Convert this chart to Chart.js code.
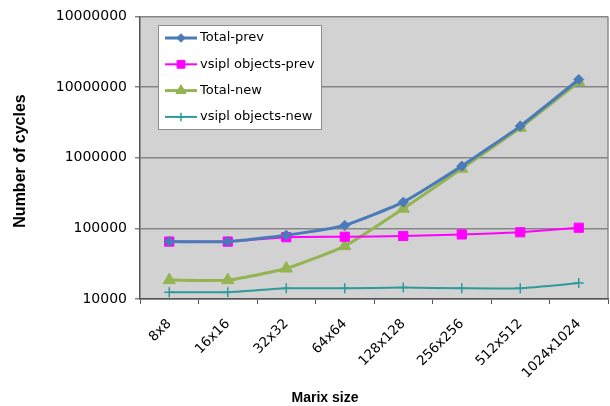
<!DOCTYPE html>
<html>
<head>
<meta charset="utf-8">
<script src="https://cdn.jsdelivr.net/npm/chart.js@4/dist/chart.umd.min.js"></script>
<style>
  html, body { margin: 0; padding: 0; background: #ffffff; }
  #wrap { width: 610px; height: 406px; position: relative; }
</style>
</head>
<body>
<div id="wrap"><canvas id="c" width="610" height="406"></canvas></div>
<script>
const categories = ['8x8', '16x16', '32x32', '64x64', '128x128', '256x256', '512x512', '1024x1024'];
const totalPrev = [65000, 65000, 80000, 110000, 235000, 760000, 2800000, 12800000];
const vsiplPrev = [65000, 65000, 75000, 76000, 78000, 82000, 88000, 102000];
const totalNew = [18500, 18500, 27000, 56000, 190000, 700000, 2650000, 11800000];
const vsiplNew = [12500, 12500, 14200, 14200, 14500, 14200, 14200, 16800];
const yTickValues = [10000, 100000, 1000000, 10000000, 100000000];
const yTickLabels = ['10000', '100000', '1000000', '10000000', '10000000'];
const xTitle = 'Marix size';
const yTitle = 'Number of cycles';

const TFONT = '"DejaVu Sans", sans-serif';
const BFONT = '"Liberation Sans", Arial, sans-serif';

const plotBg = {
  id: 'plotBg',
  beforeDraw(chart) {
    const { ctx, chartArea: a } = chart;
    ctx.save();
    ctx.fillStyle = '#d2d2d2';
    ctx.fillRect(a.left, a.top, a.right - a.left, a.bottom - a.top);
    ctx.strokeStyle = '#8c8c8c';
    ctx.lineWidth = 1.5;
    ctx.beginPath();
    ctx.moveTo(a.right, a.top);
    ctx.lineTo(a.right, a.bottom);
    ctx.stroke();
    ctx.restore();
  }
};

const titles = {
  id: 'titles',
  afterDraw(chart) {
    const { ctx } = chart;
    ctx.save();
    ctx.fillStyle = '#000';
    ctx.font = 'bold 14px ' + BFONT;
    ctx.textAlign = 'center';
    ctx.textBaseline = 'top';
    ctx.fillText(xTitle, 325, 391);
    ctx.font = 'bold 16px ' + BFONT;
    ctx.translate(21, 161);
    ctx.rotate(-Math.PI / 2);
    ctx.textBaseline = 'middle';
    ctx.fillText(yTitle, 0, 0);
    ctx.restore();
  }
};

const boxLegend = {
  id: 'boxLegend',
  afterDatasetsDraw(chart) {
    const { ctx } = chart;
    const x = 158, y = 25, w = 163, h = 104;
    ctx.save();
    ctx.fillStyle = '#ffffff';
    ctx.fillRect(x, y, w, h);
    ctx.strokeStyle = '#8c8c8c';
    ctx.lineWidth = 1;
    ctx.strokeRect(x + 0.5, y + 0.5, w, h);
    ctx.font = '13px ' + TFONT;
    ctx.textBaseline = 'middle';
    ctx.textAlign = 'left';
    chart.data.datasets.forEach((ds, i) => {
      const cy = y + 13 + i * 26.3;
      ctx.strokeStyle = ds.borderColor;
      ctx.lineWidth = ds.borderWidth;
      ctx.beginPath();
      ctx.moveTo(x + 7, cy);
      ctx.lineTo(x + 39, cy);
      ctx.stroke();
      ctx.fillStyle = ds.pointBackgroundColor;
      ctx.strokeStyle = ds.pointBorderColor;
      ctx.lineWidth = ds.pointBorderWidth;
      Chart.helpers.drawPoint(ctx, {
        pointStyle: ds.pointStyle,
        radius: ds.pointRadius * 0.85,
        rotation: 0,
        borderWidth: ds.pointBorderWidth
      }, x + 23, cy);
      ctx.fillStyle = '#000';
      ctx.fillText(ds.label, x + 42, cy);
    });
    ctx.restore();
  }
};

function mk(label, data, color, style, radius, width) {
  return {
    label, data,
    borderColor: color,
    backgroundColor: color,
    pointBackgroundColor: color,
    pointBorderColor: color,
    borderWidth: width,
    pointStyle: style,
    pointRadius: radius,
    pointBorderWidth: style === 'cross' ? 1.5 : 1,
    tension: 0.15,
    fill: false
  };
}

new Chart(document.getElementById('c'), {
  type: 'line',
  data: {
    labels: categories,
    datasets: [
      mk('Total-prev', totalPrev, '#4a7ab8', 'rectRot', 5, 3),
      mk('vsipl objects-prev', vsiplPrev, '#ff00ff', 'rect', 6.5, 2),
      mk('Total-new', totalNew, '#94b451', 'triangle', 7, 3),
      mk('vsipl objects-new', vsiplNew, '#2e9a9a', 'cross', 5, 2)
    ]
  },
  options: {
    responsive: false,
    animation: false,
    devicePixelRatio: 1,
    layout: { autoPadding: false, padding: { left: 0, right: 2, top: 16, bottom: 0 } },
    plugins: { legend: { display: false }, tooltip: { enabled: false } },
    scales: {
      x: {
        type: 'category',
        offset: true,
        grid: { display: true, drawOnChartArea: false, drawTicks: true, tickLength: 5, color: '#555', offset: true },
        border: { display: true, color: '#555', width: 1.5 },
        ticks: { minRotation: 45, maxRotation: 45, color: '#000', font: { family: TFONT, size: 13.5 }, padding: 12 },
        afterFit(s) { s.height = 107; s.paddingLeft = 0; s.paddingRight = 0; }
      },
      y: {
        type: 'logarithmic',
        min: 10000,
        max: 100000000,
        afterBuildTicks(s) { s.ticks = yTickValues.map(v => ({ value: v, major: true })); },
        grid: { color: '#858585', lineWidth: 1.5, tickLength: 5 },
        border: { display: true, color: '#555', width: 1.5 },
        ticks: {
          color: '#000',
          font: { family: TFONT, size: 14 },
          padding: 8,
          autoSkip: false,
          callback(v) { const i = yTickValues.indexOf(v); return i >= 0 ? yTickLabels[i] : ''; }
        },
        afterFit(s) { s.width = 140; }
      }
    }
  },
  plugins: [plotBg, boxLegend, titles]
});
</script>
</body>
</html>
